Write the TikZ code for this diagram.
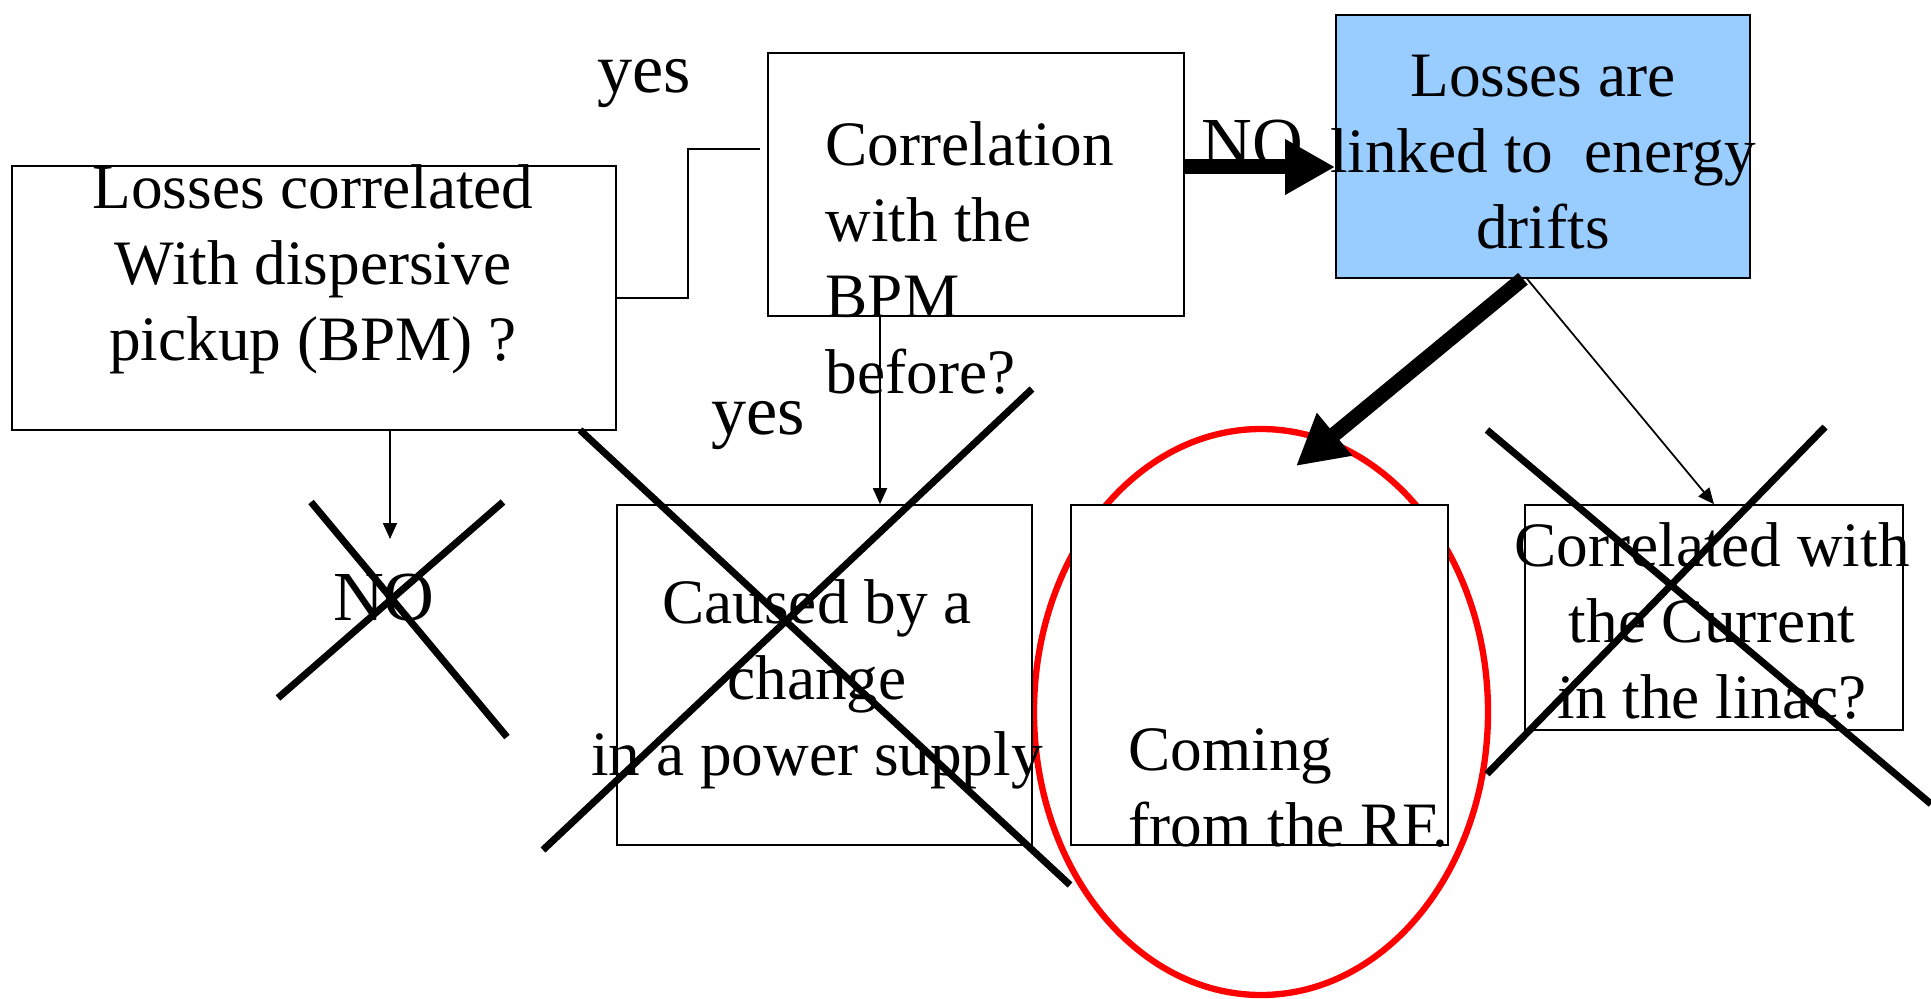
\documentclass[tikz,border=0pt]{standalone}
\usepackage{fontspec}
\setmainfont{Liberation Serif}
\definecolor{driftblue}{RGB}{153,204,255}
\definecolor{rfred}{RGB}{255,0,0}
\usetikzlibrary{arrows.meta,calc}
\newcommand{\boxfont}{\fontsize{18}{21.6}\selectfont}
\newcommand{\answerfont}{\fontsize{20}{24}\selectfont}

\begin{document}
\begin{tikzpicture}[
  qbox/.style={draw, line width=0.45pt, fill=white, inner sep=0pt},
  txt/.style={inner sep=0pt, align=center, font=\boxfont},
  answer/.style={inner sep=0pt, font=\answerfont},
  crossline/.style={line width=2pt},
  fatarrow/.style={line width=0.15cm, -{Triangle[length=0.5cm,width=0.52cm]}},
  thinarrow/.style={line width=0.5pt, -{Triangle[length=0.16cm,width=0.14cm]}}
]
  \useasboundingbox (0,0) rectangle (19.31,9.98);
  %% red ring round the RF box
  \draw[rfred, line width=1.8pt] (12.61,2.86) ellipse [x radius=2.27, y radius=2.83];
  %% boxes
  \node[qbox, minimum width=6.04cm, minimum height=2.64cm] (q1) at (3.14,7.00) {};
  \node[qbox, minimum width=4.16cm, minimum height=2.63cm] (q2) at (9.76,8.135) {};
  \node[qbox, fill=driftblue, minimum width=4.14cm, minimum height=2.63cm] (drift) at (15.43,8.515) {};
  \node[qbox, minimum width=4.15cm, minimum height=3.40cm] (psu) at (8.245,3.23) {};
  \node[qbox, minimum width=3.77cm, minimum height=3.40cm] (rf) at (12.595,3.23) {};
  \node[qbox, minimum width=3.78cm, minimum height=2.25cm] (linac) at (17.14,3.805) {};
  %% texts
  \node[txt] (q1t) at (3.13,7.29) {Losses correlated\\With dispersive\\pickup (BPM) ?};
  \node[txt, align=left, anchor=west] (q2t) at (8.25,7.40) {Correlation\\with the\\BPM\\before?};
  \node[txt] (driftt) at (15.43,8.46) {Losses are\\linked to\ \ energy\\drifts};
  \node[txt] (psut) at (8.17,3.14) {Caused by a\\change\\in a power supply};
  \node[txt, align=left, anchor=west] (rft) at (11.28,2.10) {Coming\\from the RF.};
  \node[txt] (linact) at (17.12,3.77) {Correlated with\\the Current\\in the linac?};
  %% answers
  \node[answer] (yes1) at (6.44,9.14) {yes};
  \node[answer] (yes2) at (7.58,5.72) {yes};
  \node[answer] (no1) at (3.84,4.00) {NO};
  \node[answer] (no2) at (12.52,8.54) {NO};
  %% connectors
  \coordinate (j1) at (7.60,8.49);
  \draw[line width=0.5pt] (q1.east) -- ++(0.71,0) |- (j1);
  \coordinate (noend) at (3.90,4.59);
  \draw[thinarrow] (q1.south -| noend) -- (noend);
  \coordinate (c2) at (8.80,0);
  \draw[thinarrow] (q2.south -| c2) -- (psu.north -| c2);
  \coordinate (c3) at (0,8.31);
  \draw[fatarrow] (q2.east |- c3) -- (drift.west |- c3);
  \coordinate (rfend) at (12.96,5.32);
  \draw[fatarrow] ($(drift.south)+(-0.2,0)$) -- (rfend);
  \draw[thinarrow] ($(drift.south)+(-0.16,0)$) -- (linac.north);
  %% crosses
  \draw[crossline] (3.11,4.96) -- (5.07,2.61) (5.03,4.96) -- (2.78,3.00);
  \draw[crossline] (5.80,5.68) -- (10.70,1.13) (10.32,6.09) -- (5.43,1.48);
  \draw[crossline] (14.87,5.68) -- (19.31,1.94) (18.25,5.71) -- (14.87,2.24);
\end{tikzpicture}
\end{document}
